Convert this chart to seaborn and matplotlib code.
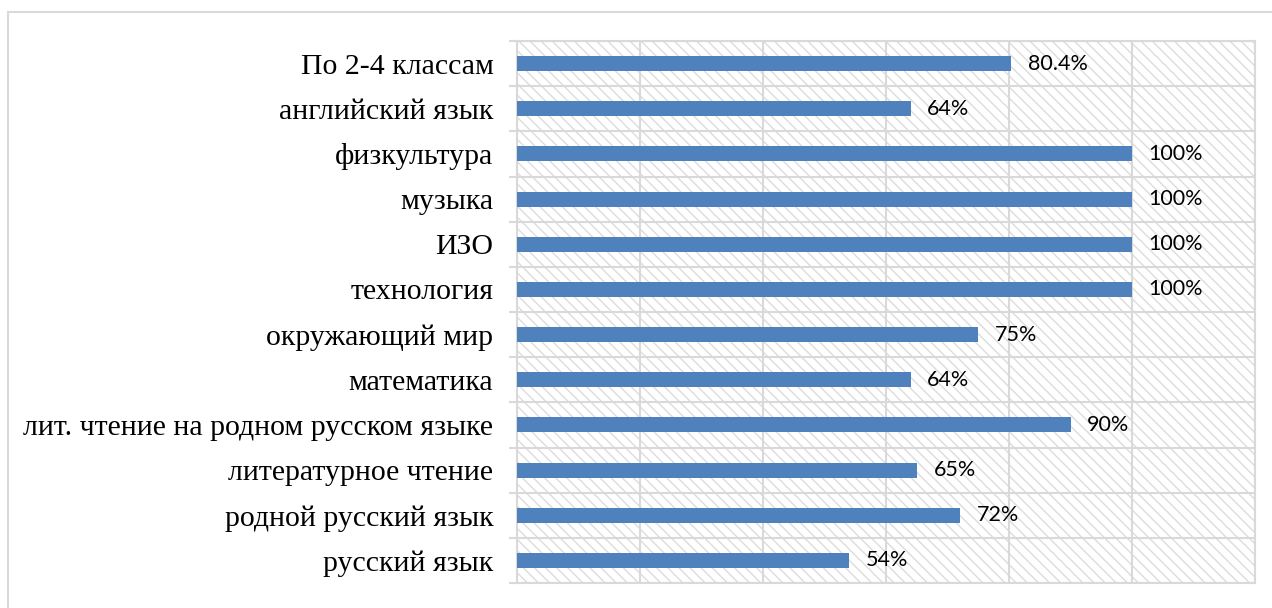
import matplotlib
matplotlib.use("Agg")
import matplotlib.pyplot as plt
from matplotlib.patches import Rectangle
from matplotlib.ticker import FixedLocator, NullFormatter
import seaborn as sns
import pandas as pd

subjects = ["По 2-4 классам", "английский язык", "физкультура", "музыка", "ИЗО",
            "технология", "окружающий мир", "математика",
            "лит. чтение на родном русском языке", "литературное чтение",
            "родной русский язык", "русский язык"]
percent = [80.4, 64, 100, 100, 100, 100, 75, 64, 90, 65, 72, 54]

df = pd.DataFrame({"subject": subjects, "percent": percent})

sns.set_style("white")
plt.rcParams["hatch.linewidth"] = 1.0
plt.rcParams["hatch.color"] = "#DCDCDC"

GRID = "#D9D9D9"
BAR = "#4F81BD"

fig = plt.figure(figsize=(12.72, 6.08), dpi=100)
ax = fig.add_axes([517 / 1272, 1 - 583 / 608, (1255 - 517) / 1272, (583 - 41) / 608])

# outer frame of the chart area
fig.patches.append(Rectangle((8 / 1272, -0.1), 1.2, 1 - 12 / 608 + 0.1,
                             transform=fig.transFigure, fill=False,
                             edgecolor=GRID, linewidth=1.5))

# hatched plot background
ax.add_patch(Rectangle((0, 0), 1, 1, transform=ax.transAxes, facecolor="white",
                       edgecolor="#DCDCDC", hatch="\\\\\\", linewidth=0, zorder=0))

sns.barplot(data=df, x="percent", y="subject", orient="h", color=BAR,
            width=0.33, saturation=1, linewidth=0, ax=ax, zorder=3)

ax.set_xlim(0, 120)
ax.set_ylim(len(subjects) - 0.5, -0.5)
ax.set_xticks(range(0, 121, 20))
ax.xaxis.set_major_formatter(NullFormatter())
ax.tick_params(axis="x", length=0)
ax.grid(axis="x", color=GRID, linewidth=1.5, zorder=1)

# category boundaries: outward ticks and horizontal lines
bounds = [i - 0.5 for i in range(len(subjects) + 1)]
ax.yaxis.set_minor_locator(FixedLocator(bounds))
ax.tick_params(axis="y", which="minor", length=6, width=1.5, color=GRID, direction="out", left=True)
ax.tick_params(axis="y", which="major", length=0, pad=17)
ax.grid(axis="y", which="minor", color=GRID, linewidth=1.5, zorder=1)
ax.set_axisbelow(True)

for lab in ax.get_yticklabels():
    lab.set_fontfamily("Liberation Serif")
    lab.set_fontsize(21.5)
    lab.set_color("black")

for s in ax.spines.values():
    s.set_color(GRID)
    s.set_linewidth(1.5)

for i, v in enumerate(percent):
    txt = f"{v:.1f}%" if v != int(v) else f"{v:.0f}%"
    ax.annotate(txt, (v, i), xytext=(12, 0), textcoords="offset points",
                va="center", ha="left", fontsize=15.5, family="Lato", color="black")

ax.set_xlabel("")
ax.set_ylabel("")

fig.savefig("out.png", dpi=100)
